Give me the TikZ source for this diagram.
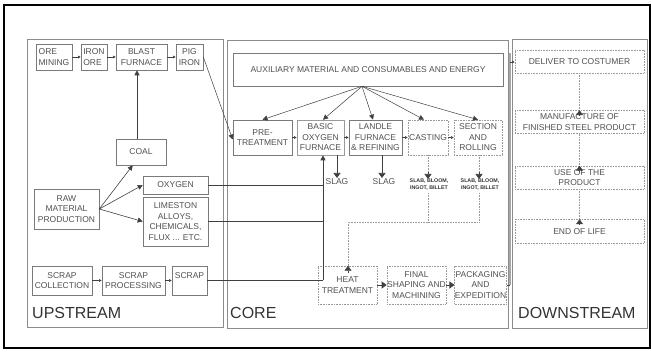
\documentclass[tikz,border=0pt]{standalone}
\usepackage{fontspec}
\setmainfont{Liberation Sans}
\usetikzlibrary{arrows.meta,calc}
\definecolor{txt}{HTML}{505050}
\definecolor{edge}{HTML}{7A7A7A}
\definecolor{dedge}{HTML}{9A9A9A}
\definecolor{pane}{HTML}{8C8C8C}
\tikzset{
  panel/.style={draw=pane, line width=0.8pt},
  box/.style={draw=edge, line width=0.6pt, inner sep=0pt, align=center, text=txt,
              font=\fontsize{8.5}{10.5}\selectfont},
  dbox/.style={box, draw=dedge, densely dotted},
  lbox/.style={box, align=left},
  word/.style={inner sep=0pt, text=txt, font=\fontsize{8.5}{10.5}\selectfont},
  prod/.style={inner sep=0pt, align=center, text=black!80,
               font=\fontsize{5.3}{7.5}\selectfont\bfseries},
  zone/.style={inner sep=0pt, anchor=base west, text=black!80,
               font=\fontsize{16}{16}\selectfont},
  small/.style={draw=black!75, line width=0.5pt, -{Triangle[length=2.6pt,width=2.6pt]}},
  mid/.style={draw=black!75, line width=0.6pt, -{Triangle[length=5pt,width=5pt]}},
  big/.style={draw=black!75, line width=0.6pt, -{Triangle[length=5pt,width=7pt]}},
  flow/.style={draw=black!75, line width=0.6pt},
  dflow/.style={draw=dedge, line width=0.6pt, densely dotted},
}
\begin{document}
\begin{tikzpicture}[x=1pt,y=-1pt]
\useasboundingbox (0,0) rectangle (651,352);
% outer frame
\draw[line width=2pt] (4,5) rectangle (650,348);
% the three zones
\draw[panel] (27,39) rectangle (223,327);
\draw[panel] (227,40) rectangle (508,328);
\draw[panel] (512,39) rectangle (647,328);
\node[zone] (lup) at (32,319) {UPSTREAM};
\node[zone] (lcore) at (230,319) {CORE};
\node[zone] (ldown) at (518,319) {DOWNSTREAM};

% ---------- upstream ----------
\node[lbox, minimum width=36, minimum height=26] (ore) at (54,57) {ORE\\MINING};
\node[lbox, minimum width=26, minimum height=26] (iron) at (94,57) {IRON\\ORE};
\node[box, minimum width=51, minimum height=26] (blast) at (141.5,57) {BLAST\\FURNACE};
\node[box, minimum width=27, minimum height=26] (pig) at (189.5,57) {PIG\\IRON};
\node[box, minimum width=50, minimum height=26] (coal) at (141,152) {COAL};
\node[box, minimum width=65, minimum height=40] (raw) at (66.5,209) {RAW\\MATERIAL\\PRODUCTION};
\node[box, minimum width=65, minimum height=18] (oxy) at (175.5,185) {OXYGEN};
\node[box, minimum width=65, minimum height=49] (lime) at (175.5,221.5) {LIMESTON\\ALLOYS,\\CHEMICALS,\\FLUX ... ETC.};
\node[box, minimum width=60, minimum height=29] (scol) at (62,280.5) {SCRAP\\COLLECTION};
\node[box, minimum width=63, minimum height=29] (sproc) at (133.5,280.5) {SCRAP\\PROCESSING};
\node[box, minimum width=35, minimum height=29] (scrap) at (189.5,280.5) {SCRAP\\~};

\draw[small] (ore) -- (iron);
\draw[small] (iron) -- (blast);
\draw[small] (blast) -- (pig);
\draw[mid] ([xshift=-4pt]coal.north) -- ([xshift=-4pt]coal.north |- blast.south);
\draw[mid] (raw.east) -- ([xshift=17pt]coal.south west);
\draw[mid] (raw.east) -- (oxy.west);
\draw[mid] (raw.east) -- (lime.west);
\draw[small] (scol) -- (sproc);
\draw[small] (sproc) -- (scrap);

% ---------- core ----------
\node[box, minimum width=270, minimum height=33] (aux) at (368,69.5) {AUXILIARY MATERIAL AND CONSUMABLES AND ENERGY};
\node[box, minimum width=59, minimum height=35] (pre) at (262.5,137.5) {PRE-\\TREATMENT};
\node[box, minimum width=47, minimum height=35, draw=dedge] (bof) at (320.5,137.5) {BASIC\\OXYGEN\\FURNACE};
\node[box, minimum width=53, minimum height=35] (ladle) at (375.5,137.5) {LANDLE\\FURNACE\\\& REFINING};
\node[dbox, minimum width=40, minimum height=35] (cast) at (428,137.5) {CASTING};
\node[dbox, minimum width=48, minimum height=35] (sect) at (478,137.5) {SECTION\\AND\\ROLLING};
\node[word, anchor=north] (slag1) at (337,178) {SLAG};
\node[word, anchor=north] (slag2) at (384,178) {SLAG};
\node[prod, anchor=north] (prod1) at (429,178.5) {SLAB, BLOOM,\\INGOT, BILLET};
\node[prod, anchor=north] (prod2) at (480,178.5) {SLAB, BLOOM,\\INGOT, BILLET};
\node[dbox, minimum width=59, minimum height=38] (heat) at (347.5,285) {HEAT\\TREATMENT};
\node[dbox, minimum width=59, minimum height=38] (final) at (416.5,285) {FINAL\\SHAPING AND\\MACHINING};
\node[dbox, minimum width=51, minimum height=38] (pack) at (480.5,285) {PACKAGING\\AND\\EXPEDITION};

% pig iron into pre-treatment
\draw[mid, line width=0.5pt] (pig.east) -- ([yshift=-2pt]pre.west);
% auxiliary inputs
\coordinate (a0) at ([xshift=-6pt]aux.south);
\draw[mid, line width=0.5pt] (a0) -- (pre.north);
\draw[mid, line width=0.5pt] (a0) -- ([xshift=2.5pt]bof.north);
\draw[mid, line width=0.5pt] (a0) -- ([xshift=-2.5pt]ladle.north);
\draw[mid, line width=0.5pt] (a0) -- ([xshift=-4pt]cast.north);
\draw[mid, line width=0.5pt] (a0) -- (sect.north);
% main line
\draw[small] (pre) -- (bof);
\draw[small] (bof) -- (ladle);
\draw[small] (ladle) -- (cast);
\draw[small] (cast) -- (sect);
% oxygen, additions and scrap into the converter
\coordinate (j) at (323,280.5);
\draw[flow] (oxy.east) -- (oxy.east -| j);
\draw[flow] (lime.east) -- (lime.east -| j);
\draw[flow] (scrap.east) -- (j);
\draw[mid] (j) -- (j |- bof.south);
% by-products
\draw[big] (bof.south -| slag1.north) -- (slag1.north);
\draw[big] (ladle.south -| 382,0) -- (382,178);
\draw[dflow] (cast.south |- 0,155) -- (428,179);
\draw[big] (428,172) -- (428,179);
\draw[dflow] (479,155) -- (479,179);
\draw[big] (479,172) -- (479,179);
% semi-products to heat treatment
\coordinate (m1) at (428,222);
\coordinate (m2) at (479,222);
\coordinate (m0) at (348,222);
\draw[dflow] (428,193) -- (m1);
\draw[dflow] (479,193) -- (m2) -- (m0) -- (heat.north -| m0);
\draw[big] ([yshift=-7pt]heat.north -| m0) -- (heat.north -| m0);
\draw[big] (heat) -- (final);
\draw[big] (final) -- (pack);

% ---------- downstream ----------
\node[dbox, minimum width=129, minimum height=23] (deliver) at (579.5,61.5) {DELIVER TO COSTUMER};
\node[dbox, minimum width=129, minimum height=23] (manuf) at (579.5,122) {MANUFACTURE OF\\FINISHED STEEL PRODUCT};
\node[dbox, minimum width=129, minimum height=23] (use) at (579.5,177.5) {USE OF THE\\PRODUCT};
\node[dbox, minimum width=129, minimum height=24] (eol) at (579.5,231.5) {END OF LIFE};

% dispatch to the customer
\coordinate (b0) at (510,285);
\coordinate (b1) at (510,62);
\draw[flow] (pack.east) -- (b0);
\draw[draw=black!35, line width=2.6pt] (510,53) -- (b0);
\draw[small] (b1) -- (b1 -| deliver.west);
\draw[dflow] (deliver) -- (manuf);
\draw[big] ([yshift=-6pt]manuf.north) -- (manuf.north);
\draw[dflow] (manuf) -- (use);
\draw[big] ([yshift=-6pt]use.north) -- (use.north);
\draw[dflow] (use) -- (eol);
\draw[big] ([yshift=-6pt]eol.north) -- (eol.north);
\end{tikzpicture}
\end{document}
